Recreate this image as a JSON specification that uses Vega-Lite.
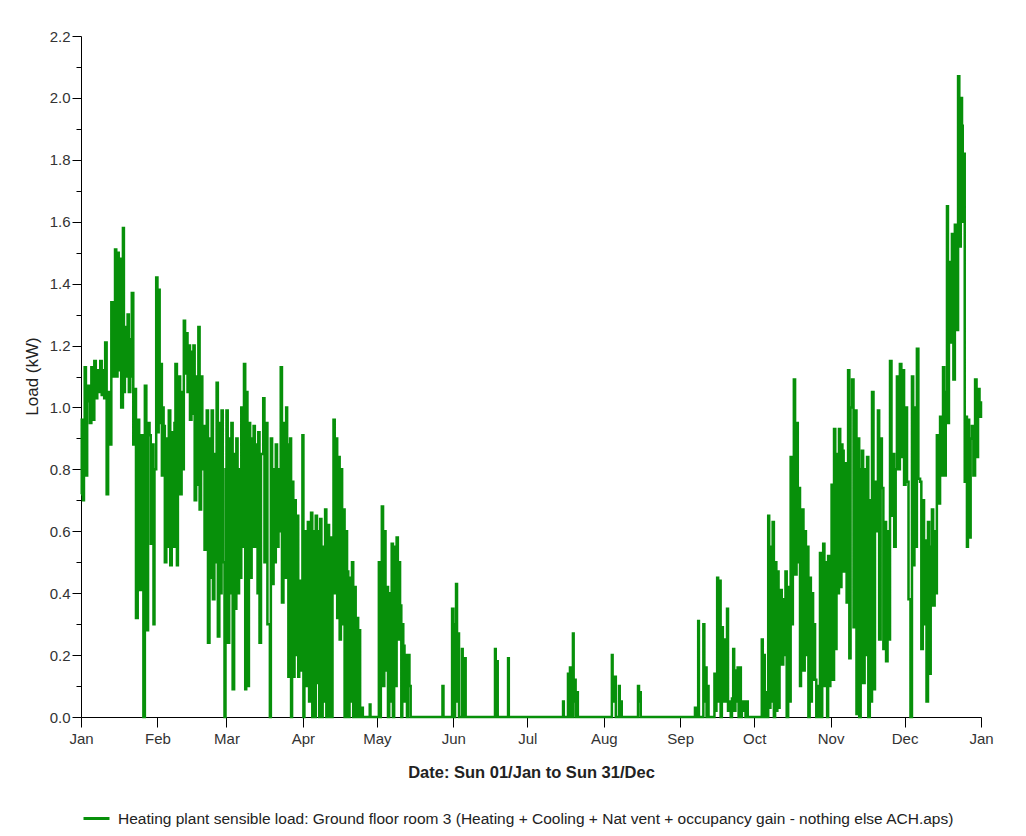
{
  "$schema": "https://vega.github.io/schema/vega-lite/v6.json",
  "autosize": {"type": "none"},
  "padding": {"left": 81, "top": 36, "right": 45, "bottom": 119},
  "width": 900,
  "height": 681,
  "background": "white",
  "config": {
    "view": {"stroke": null},
    "axis": {"grid": false, "domainColor": "#000", "tickColor": "#000", "labelFont": "Liberation Sans", "titleFont": "Liberation Sans", "labelColor": "#333", "titleColor": "#222"},
    "legend": {"labelFont": "Liberation Sans"}
  },
  "data": {"values": [
    {"d":0,"v":0.72},{"d":0.3,"v":0.96},{"d":0.8,"v":0.70},{"d":1.2,"v":0.90},{"d":1.5,"v":1.13},{"d":2.0,"v":0.78},{"d":2.5,"v":1.02},{"d":3.0,"v":1.07},{"d":3.6,"v":0.95},{"d":4.2,"v":1.13},{"d":4.8,"v":0.96},{"d":5.4,"v":1.15},{"d":6.0,"v":1.03},{"d":6.6,"v":1.12},{"d":7.2,"v":1.05},{"d":7.8,"v":1.15},{"d":8.4,"v":1.04},{"d":9.0,"v":1.12},{"d":9.4,"v":1.03},{"d":9.8,"v":1.21},{"d":10.4,"v":0.72},{"d":11.0,"v":1.05},{"d":11.6,"v":0.88},{"d":12.3,"v":1.34},{"d":12.9,"v":1.10},{"d":13.4,"v":1.28},{"d":13.8,"v":1.51},{"d":14.3,"v":1.10},{"d":14.8,"v":1.50},{"d":15.3,"v":1.12},{"d":15.8,"v":1.48},{"d":16.3,"v":1.00},{"d":17.0,"v":1.58},{"d":17.4,"v":1.05},{"d":17.8,"v":1.26},{"d":18.3,"v":1.10},{"d":18.9,"v":1.30},{"d":19.4,"v":1.05},{"d":20.0,"v":1.22},{"d":20.4,"v":1.10},{"d":20.6,"v":1.37},{"d":21.2,"v":0.88},{"d":21.8,"v":1.06},{"d":22.3,"v":0.32},{"d":23.0,"v":0.96},{"d":23.6,"v":0.41},{"d":24.4,"v":0.91},{"d":25.3,"v":0.0},{"d":25.9,"v":1.07},{"d":26.5,"v":0.28},{"d":27.2,"v":0.95},{"d":27.8,"v":0.91},{"d":28.3,"v":0.56},{"d":28.8,"v":0.88},{"d":29.4,"v":0.30},{"d":29.8,"v":0.80},
    {"d":30.5,"v":1.42},{"d":31.0,"v":0.92},{"d":31.5,"v":1.38},{"d":31.9,"v":0.95},{"d":32.3,"v":1.14},{"d":32.8,"v":0.78},{"d":33.2,"v":1.00},{"d":33.5,"v":0.94},{"d":34.0,"v":0.50},{"d":34.6,"v":0.90},{"d":35.1,"v":0.55},{"d":35.6,"v":0.99},{"d":36.2,"v":0.49},{"d":36.8,"v":0.92},{"d":37.4,"v":0.55},{"d":37.9,"v":0.95},{"d":38.3,"v":1.14},{"d":38.9,"v":0.49},{"d":39.3,"v":1.00},{"d":39.7,"v":1.10},{"d":40.2,"v":0.72},{"d":40.8,"v":1.05},{"d":41.3,"v":0.80},{"d":41.7,"v":1.28},{"d":42.2,"v":1.11},{"d":42.7,"v":1.24},{"d":43.2,"v":1.05},{"d":43.7,"v":1.20},{"d":44.2,"v":0.96},{"d":44.8,"v":1.18},{"d":45.2,"v":0.98},{"d":45.6,"v":1.20},{"d":46.1,"v":0.70},{"d":46.7,"v":1.10},{"d":47.2,"v":0.75},{"d":47.6,"v":1.26},{"d":48.1,"v":0.67},{"d":48.7,"v":1.10},{"d":49.2,"v":0.80},{"d":49.6,"v":0.94},{"d":50.1,"v":0.54},{"d":50.6,"v":0.85},{"d":51.0,"v":0.99},{"d":51.5,"v":0.24},{"d":52.1,"v":0.90},{"d":52.6,"v":0.45},{"d":53.0,"v":0.99},{"d":53.5,"v":0.38},{"d":54.1,"v":0.85},{"d":54.6,"v":0.50},{"d":55.0,"v":1.08},{"d":55.5,"v":0.26},{"d":56.1,"v":0.95},{"d":56.6,"v":0.40},{"d":57.0,"v":0.99},{"d":57.5,"v":0.50},{"d":58.2,"v":0.0},{"d":58.6,"v":0.80},
    {"d":59.0,"v":0.99},{"d":59.5,"v":0.24},{"d":60.1,"v":0.90},{"d":60.6,"v":0.40},{"d":61.0,"v":0.95},{"d":61.5,"v":0.09},{"d":62.1,"v":0.85},{"d":62.6,"v":0.35},{"d":63.0,"v":0.90},{"d":63.5,"v":0.40},{"d":64.1,"v":0.80},{"d":64.6,"v":0.45},{"d":65.0,"v":1.00},{"d":65.5,"v":0.55},{"d":66.1,"v":1.14},{"d":66.6,"v":0.09},{"d":67.0,"v":1.05},{"d":67.5,"v":0.10},{"d":68.1,"v":0.95},{"d":68.6,"v":0.45},{"d":69.2,"v":0.90},{"d":69.6,"v":0.55},{"d":70.0,"v":0.94},{"d":70.5,"v":0.55},{"d":71.1,"v":0.88},{"d":71.6,"v":0.40},{"d":71.9,"v":0.92},{"d":72.4,"v":0.24},{"d":73.0,"v":0.85},{"d":73.9,"v":1.03},{"d":74.4,"v":0.50},{"d":75.0,"v":0.95},{"d":75.6,"v":0.30},{"d":76.6,"v":0.0},{"d":77.0,"v":0.90},{"d":77.5,"v":0.43},{"d":78.1,"v":0.80},{"d":78.6,"v":0.50},{"d":79.0,"v":0.88},{"d":79.5,"v":0.55},{"d":80.1,"v":0.80},{"d":80.6,"v":0.60},{"d":81.0,"v":1.13},{"d":81.5,"v":0.37},{"d":82.1,"v":0.95},{"d":82.6,"v":0.45},{"d":83.2,"v":1.00},{"d":83.6,"v":0.88},{"d":84.1,"v":0.13},{"d":84.8,"v":0.90},{"d":85.2,"v":0.0},{"d":85.6,"v":0.76},{"d":86.1,"v":0.13},{"d":86.6,"v":0.70},{"d":87.1,"v":0.20},{"d":87.6,"v":0.65},{"d":88.1,"v":0.13},{"d":88.5,"v":0.44},{"d":89.0,"v":0.15},{"d":89.4,"v":0.38},
    {"d":89.8,"v":0.91},{"d":90.2,"v":0.0},{"d":90.6,"v":0.60},{"d":91.0,"v":0.45},{"d":91.5,"v":0.10},{"d":92.0,"v":0.63},{"d":92.5,"v":0.05},{"d":92.9,"v":0.40},{"d":93.3,"v":0.66},{"d":93.8,"v":0.0},{"d":94.3,"v":0.60},{"d":94.8,"v":0.0},{"d":95.2,"v":0.65},{"d":95.7,"v":0.11},{"d":96.2,"v":0.60},{"d":96.6,"v":0.0},{"d":97.0,"v":0.64},{"d":97.5,"v":0.0},{"d":98.0,"v":0.55},{"d":98.5,"v":0.05},{"d":99.0,"v":0.67},{"d":99.5,"v":0.0},{"d":100.0,"v":0.62},{"d":100.6,"v":0.0},{"d":101.0,"v":0.58},{"d":101.5,"v":0.0},{"d":102.0,"v":0.45},{"d":102.4,"v":0.96},{"d":102.9,"v":0.40},{"d":103.4,"v":0.90},{"d":103.9,"v":0.32},{"d":104.4,"v":0.84},{"d":104.9,"v":0.25},{"d":105.4,"v":0.80},{"d":105.9,"v":0.30},{"d":106.4,"v":0.67},{"d":106.9,"v":0.0},{"d":107.4,"v":0.60},{"d":107.9,"v":0.47},{"d":108.4,"v":0.0},{"d":108.9,"v":0.45},{"d":109.4,"v":0.05},{"d":109.9,"v":0.50},{"d":110.4,"v":0.0},{"d":110.9,"v":0.42},{"d":111.4,"v":0.0},{"d":111.9,"v":0.32},{"d":112.4,"v":0.0},{"d":112.9,"v":0.28},{"d":113.2,"v":0.0},{"d":114.0,"v":0.03},{"d":114.3,"v":0.0},{"d":117.1,"v":0.04},{"d":117.4,"v":0.0},{"d":120.5,"v":0.0},
    {"d":120.8,"v":0.50},{"d":121.2,"v":0.0},{"d":121.6,"v":0.45},{"d":122.0,"v":0.68},{"d":122.5,"v":0.10},{"d":123.0,"v":0.60},{"d":123.5,"v":0.15},{"d":124.0,"v":0.42},{"d":124.5,"v":0.0},{"d":125.0,"v":0.40},{"d":125.5,"v":0.05},{"d":126.0,"v":0.56},{"d":126.5,"v":0.0},{"d":127.0,"v":0.55},{"d":127.5,"v":0.10},{"d":128.0,"v":0.58},{"d":128.5,"v":0.25},{"d":129.0,"v":0.50},{"d":129.4,"v":0.36},{"d":129.9,"v":0.0},{"d":130.3,"v":0.30},{"d":130.7,"v":0.23},{"d":131.2,"v":0.05},{"d":131.7,"v":0.20},{"d":132.2,"v":0.0},{"d":132.6,"v":0.20},{"d":133.2,"v":0.10},{"d":133.7,"v":0.0},
    {"d":146.6,"v":0.10},{"d":147.0,"v":0.0},{"d":150.5,"v":0.35},{"d":151.0,"v":0.0},{"d":151.7,"v":0.30},{"d":152.1,"v":0.43},{"d":152.5,"v":0.05},{"d":152.9,"v":0.27},{"d":153.3,"v":0.0},{"d":154.5,"v":0.22},{"d":154.8,"v":0.0},{"d":155.7,"v":0.19},{"d":156.0,"v":0.0},{"d":167.9,"v":0.22},{"d":168.2,"v":0.0},{"d":168.7,"v":0.18},{"d":169.0,"v":0.0},{"d":173.2,"v":0.19},{"d":173.5,"v":0.0},{"d":195.5,"v":0.05},{"d":195.8,"v":0.0},{"d":197.5,"v":0.14},{"d":197.8,"v":0.0},{"d":198.3,"v":0.16},{"d":198.6,"v":0.0},{"d":199.5,"v":0.27},{"d":199.8,"v":0.05},{"d":200.3,"v":0.12},{"d":200.6,"v":0.0},{"d":201.2,"v":0.08},{"d":201.5,"v":0.0},{"d":215.3,"v":0.20},{"d":215.6,"v":0.05},{"d":216.6,"v":0.13},{"d":216.9,"v":0.0},{"d":218.2,"v":0.10},{"d":218.5,"v":0.0},{"d":219.0,"v":0.05},{"d":219.3,"v":0.0},{"d":225.9,"v":0.10},{"d":226.3,"v":0.05},{"d":226.7,"v":0.08},{"d":227.0,"v":0.0},
    {"d":249.0,"v":0.03},{"d":249.6,"v":0.0},{"d":250.3,"v":0.31},{"d":250.6,"v":0.0},{"d":252.4,"v":0.30},{"d":252.8,"v":0.05},{"d":253.2,"v":0.16},{"d":253.7,"v":0.0},{"d":254.2,"v":0.10},{"d":254.5,"v":0.0},{"d":256.9,"v":0.14},{"d":257.3,"v":0.02},{"d":257.7,"v":0.12},{"d":258.0,"v":0.45},{"d":258.4,"v":0.05},{"d":258.9,"v":0.44},{"d":259.4,"v":0.0},{"d":259.9,"v":0.29},{"d":260.3,"v":0.05},{"d":260.8,"v":0.25},{"d":261.3,"v":0.05},{"d":262.0,"v":0.35},{"d":262.4,"v":0.02},{"d":262.8,"v":0.05},{"d":263.5,"v":0.0},{"d":264.0,"v":0.06},{"d":264.5,"v":0.22},{"d":264.9,"v":0.02},{"d":265.4,"v":0.15},{"d":265.8,"v":0.05},{"d":266.3,"v":0.16},{"d":266.7,"v":0.0},{"d":267.2,"v":0.16},{"d":267.6,"v":0.0},{"d":268.0,"v":0.05},{"d":268.5,"v":0.02},{"d":269.0,"v":0.05},{"d":269.5,"v":0.0},{"d":270.0,"v":0.05},{"d":270.4,"v":0.0},
    {"d":276.1,"v":0.25},{"d":276.5,"v":0.0},{"d":276.9,"v":0.20},{"d":277.3,"v":0.0},{"d":277.7,"v":0.08},{"d":278.1,"v":0.0},{"d":278.7,"v":0.65},{"d":279.1,"v":0.03},{"d":279.6,"v":0.55},{"d":280.0,"v":0.05},{"d":280.5,"v":0.63},{"d":281.0,"v":0.0},{"d":281.5,"v":0.50},{"d":282.0,"v":0.02},{"d":282.4,"v":0.47},{"d":282.9,"v":0.03},{"d":283.3,"v":0.40},{"d":283.7,"v":0.41},{"d":284.2,"v":0.17},{"d":284.8,"v":0.38},{"d":285.3,"v":0.20},{"d":285.7,"v":0.47},{"d":286.2,"v":0.0},{"d":286.8,"v":0.42},{"d":287.3,"v":0.05},{"d":287.8,"v":0.84},{"d":288.3,"v":0.30},{"d":288.7,"v":0.75},{"d":289.1,"v":1.09},{"d":289.6,"v":0.46},{"d":290.2,"v":0.95},{"d":290.7,"v":0.50},{"d":291.1,"v":0.74},{"d":291.6,"v":0.10},{"d":292.0,"v":0.60},{"d":292.5,"v":0.67},{"d":293.0,"v":0.15},{"d":293.5,"v":0.60},{"d":294.0,"v":0.20},{"d":294.5,"v":0.55},{"d":295.0,"v":0.0},{"d":295.5,"v":0.45},{"d":296.0,"v":0.05},{"d":296.4,"v":0.40},{"d":296.9,"v":0.12},{"d":297.3,"v":0.30},{"d":297.7,"v":0.12},{"d":298.2,"v":0.0},{"d":298.7,"v":0.10},{"d":299.2,"v":0.0},{"d":299.7,"v":0.53},{"d":300.2,"v":0.0},{"d":300.6,"v":0.45},{"d":301.0,"v":0.56},{"d":301.5,"v":0.10},{"d":302.0,"v":0.50},{"d":302.6,"v":0.0},{"d":303.0,"v":0.52},{"d":303.5,"v":0.10},{"d":303.9,"v":0.45},{"d":304.4,"v":0.75},{"d":304.9,"v":0.12},{"d":305.4,"v":0.93},{"d":305.9,"v":0.22},{"d":306.4,"v":0.85},{"d":306.9,"v":0.40},
    {"d":307.4,"v":0.93},{"d":307.9,"v":0.42},{"d":308.4,"v":0.88},{"d":308.8,"v":0.86},{"d":309.3,"v":0.47},{"d":309.9,"v":0.82},{"d":310.5,"v":0.37},{"d":311.1,"v":1.12},{"d":311.6,"v":0.19},{"d":312.1,"v":1.00},{"d":312.7,"v":1.09},{"d":313.3,"v":0.29},{"d":313.9,"v":0.99},{"d":314.5,"v":0.01},{"d":315.1,"v":0.90},{"d":315.6,"v":0.0},{"d":316.2,"v":0.80},{"d":316.7,"v":0.86},{"d":317.2,"v":0.11},{"d":317.8,"v":0.80},{"d":318.3,"v":0.20},{"d":318.8,"v":0.84},{"d":319.3,"v":0.0},{"d":319.9,"v":0.70},{"d":320.4,"v":0.05},{"d":320.8,"v":1.05},{"d":321.4,"v":0.09},{"d":322.0,"v":0.76},{"d":322.6,"v":0.60},{"d":323.2,"v":0.99},{"d":323.7,"v":0.25},{"d":324.3,"v":0.90},{"d":324.8,"v":0.74},{"d":325.4,"v":0.22},{"d":326.0,"v":0.63},{"d":326.5,"v":0.18},{"d":327.1,"v":0.60},{"d":327.6,"v":0.25},{"d":328.1,"v":1.15},{"d":328.7,"v":0.65},{"d":329.3,"v":0.85},{"d":329.8,"v":0.55},{"d":330.4,"v":0.80},{"d":330.9,"v":1.10},{"d":331.5,"v":0.80},{"d":332.1,"v":1.14},{"d":332.7,"v":0.84},{"d":333.3,"v":1.12},{"d":333.8,"v":0.75},{"d":334.4,"v":1.00},{"d":335.0,"v":0.76},{"d":335.6,"v":0.38},{"d":336.4,"v":0.0},{"d":337.0,"v":1.10},{"d":337.5,"v":0.49},{"d":338.0,"v":1.00},{"d":338.5,"v":0.55},{"d":339.0,"v":1.19},{"d":339.6,"v":0.77},{"d":340.3,"v":0.76},{"d":340.8,"v":0.22},{"d":341.4,"v":0.70},{"d":341.9,"v":0.30},{"d":342.3,"v":0.57},{"d":342.9,"v":0.05},{"d":343.5,"v":0.63},{"d":344.0,"v":0.14},{"d":344.6,"v":0.55},{"d":345.1,"v":0.67},{"d":345.6,"v":0.36},{"d":346.2,"v":0.60},{"d":346.7,"v":0.40},{"d":347.1,"v":0.91},{"d":347.7,"v":0.69},{"d":348.4,"v":0.97},{"d":349.0,"v":0.78},{"d":349.6,"v":1.13},{"d":350.1,"v":0.78},{"d":350.7,"v":1.05},{"d":351.2,"v":1.65},{"d":351.6,"v":0.95},{"d":352.0,"v":1.47},{"d":352.6,"v":1.21},{"d":353.2,"v":1.56},{"d":353.8,"v":1.09},{"d":354.4,"v":1.59},{"d":355.0,"v":1.25},{"d":355.7,"v":2.07},{"d":356.2,"v":1.52},{"d":356.8,"v":2.00},{"d":357.3,"v":1.91},{"d":357.6,"v":1.60},{"d":357.9,"v":1.82},{"d":358.4,"v":0.76},{"d":358.9,"v":0.97},{"d":359.3,"v":0.55},{"d":359.7,"v":0.96},{"d":360.2,"v":0.58},{"d":360.8,"v":0.90},{"d":361.3,"v":0.94},{"d":361.9,"v":0.78},{"d":362.6,"v":1.09},{"d":363.2,"v":0.84},{"d":363.8,"v":1.06},{"d":364.4,"v":0.97},{"d":365.0,"v":1.02}
  ]},
  "mark": {"type": "line", "interpolate": "step-after", "strokeWidth": 2.5},
  "encoding": {
    "x": {
      "field": "d", "type": "quantitative",
      "scale": {"domain": [0, 365], "nice": false, "zero": false},
      "axis": {
        "values": [0, 31, 59, 90, 120, 151, 181, 212, 243, 273, 304, 334, 365],
        "labelExpr": "timeFormat(datetime(2023, 0, 1 + datum.value), '%b')",
        "tickSize": 10, "labelPadding": 4, "labelFontSize": 15, "labelFlush": false,
        "title": "Date: Sun 01/Jan to Sun 31/Dec", "titleFontSize": 16.5, "titleFontWeight": "bold",
        "titleY": 55, "titleBaseline": "middle"
      }
    },
    "y": {
      "field": "v", "type": "quantitative",
      "scale": {"domain": [0, 2.2], "nice": false},
      "axis": {
        "values": [0, 0.1, 0.2, 0.3, 0.4, 0.5, 0.6, 0.7, 0.8, 0.9, 1.0, 1.1, 1.2, 1.3, 1.4, 1.5, 1.6, 1.7, 1.8, 1.9, 2.0, 2.1, 2.2],
        "labelExpr": "round(datum.value * 10) % 2 == 0 ? format(datum.value, '.1f') : ''",
        "tickSize": {"condition": {"test": "round(datum.value * 10) % 2 == 1", "value": 5}, "value": 9},
        "labelPadding": 2, "labelFontSize": 15, "labelFlush": false,
        "title": "Load (kW)", "titleFontSize": 17, "titleFontWeight": "normal",
        "titleX": -49, "titleY": 340, "titleAngle": -90, "titleBaseline": "middle", "titleAlign": "center"
      }
    },
    "color": {
      "datum": "Heating plant sensible load: Ground floor room 3 (Heating + Cooling + Nat vent + occupancy gain - nothing else ACH.aps)",
      "type": "nominal",
      "scale": {"range": ["#07900a"]},
      "legend": {
        "title": null, "orient": "none", "legendX": 1, "legendY": 768, "padding": 0,
        "symbolType": "stroke", "symbolSize": 676, "symbolStrokeWidth": 3,
        "labelFontSize": 15.5, "labelColor": "#222", "labelOffset": 7, "labelLimit": 1000
      }
    }
  }
}
